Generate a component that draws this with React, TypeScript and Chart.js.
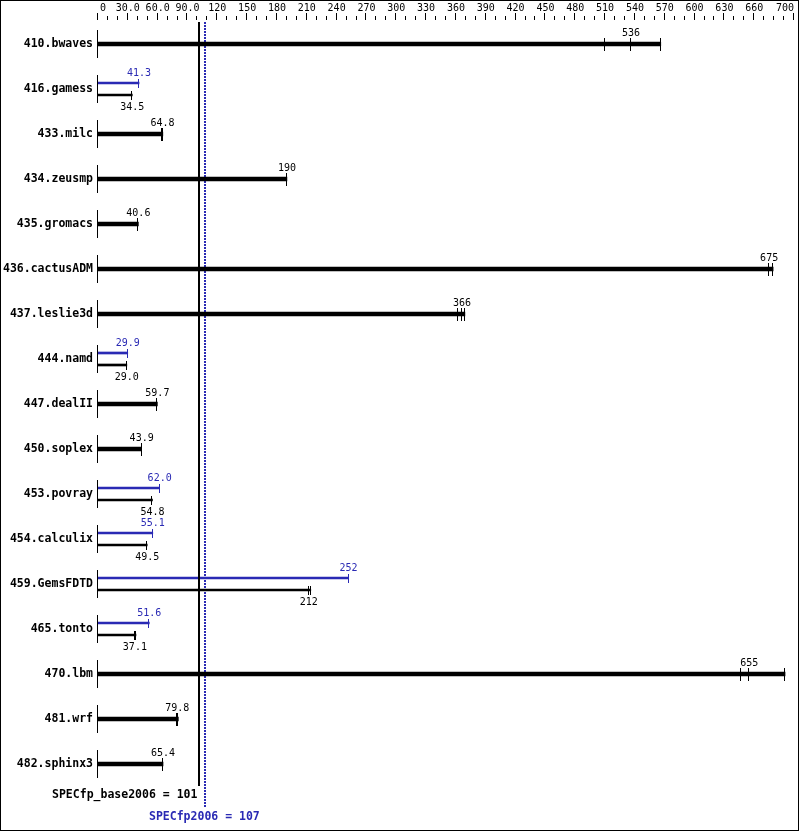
import React, { useEffect, useRef } from "react";
import { Chart, registerables } from "chart.js";

Chart.register(...registerables);

const benchmarks = [
  "410.bwaves", "416.gamess", "433.milc", "434.zeusmp", "435.gromacs", "436.cactusADM",
  "437.leslie3d", "444.namd", "447.dealII", "450.soplex", "453.povray", "454.calculix",
  "459.GemsFDTD", "465.tonto", "470.lbm", "481.wrf", "482.sphinx3",
];
const baseRatio = [536, 34.5, 64.8, 190, 40.6, 675, 366, 29.0, 59.7, 43.9, 54.8, 49.5, 212, 37.1, 655, 79.8, 65.4];
const peakRatio: (number | null)[] = [null, 41.3, null, null, null, null, null, 29.9, null, null, 62.0, 55.1, 252, 51.6, null, null, null];
const baseRuns: number[][] = [
  [510, 536, 566],
  [34.5],
  [64.8, 65.2],
  [190],
  [40.6],
  [675, 679],
  [362, 366, 369],
  [29.0],
  [59.7],
  [43.9],
  [54.8],
  [49.5],
  [212, 214],
  [37.1, 38.2],
  [647, 655, 691],
  [79.8, 80.8],
  [65.4],
];
const peakRuns: (number[] | null)[] = [null, [41.3], null, null, null, null, null, [29.9], null, null, [62.0], [55.1], [252], [51.6], null, null, null];

const baseScore = 101;
const peakScore = 107;
const baseScoreLabel = "SPECfp_base2006 = 101";
const peakScoreLabel = "SPECfp2006 = 107";

const axisMax = 700;
const axisMinorStep = 10;
const axisTickValues = [0, 30, 60, 90, 120, 150, 180, 210, 240, 270, 300, 330, 360, 390, 420, 450, 480, 510, 540, 570, 600, 630, 660, 700];
const axisTickLabels = ["0", "30.0", "60.0", "90.0", "120", "150", "180", "210", "240", "270", "300", "330", "360", "390", "420", "450", "480", "510", "540", "570", "600", "630", "660", "700"];

const BLUE = "#2a2ab4";
const BLACK = "#000000";
const ROW_OFF = 6 / 45;
const NAME_FONT = "bold 11.5px 'DejaVu Sans Mono'";
const NUM_FONT = "10px 'DejaVu Sans Mono'";

const fmt = (v: number) => (v >= 100 ? v.toFixed(0) : v.toFixed(1));
const maxOf = (a: number[]) => Math.max(...a);

export default function App() {
  const ref = useRef<HTMLCanvasElement | null>(null);

  useEffect(() => {
    if (!ref.current) return;

    const singleData: { x: number; y: number }[] = [];
    const peakData: { x: number; y: number }[] = [];
    const baseDualData: { x: number; y: number }[] = [];
    benchmarks.forEach((_, i) => {
      if (peakRatio[i] == null) {
        singleData.push({ x: maxOf(baseRuns[i]), y: i });
      } else {
        peakData.push({ x: maxOf(peakRuns[i] as number[]), y: i - ROW_OFF });
        baseDualData.push({ x: maxOf(baseRuns[i]), y: i + ROW_OFF });
      }
    });

    const overlay = {
      id: "overlay",
      beforeDraw(chart: any) {
        const { ctx } = chart;
        ctx.save();
        ctx.fillStyle = "#ffffff";
        ctx.fillRect(0, 0, chart.width, chart.height);
        ctx.restore();
      },
      beforeDatasetsDraw(chart: any) {
        const { ctx } = chart;
        const x = chart.scales.x;
        const y = chart.scales.y;
        ctx.save();
        const px = Math.round(x.getPixelForValue(peakScore)) + 1;
        ctx.strokeStyle = BLUE;
        ctx.lineWidth = 2;
        ctx.setLineDash([2, 1]);
        ctx.beginPath();
        ctx.moveTo(px, 22);
        ctx.lineTo(px, Math.round(y.getPixelForValue(16.96)));
        ctx.stroke();
        ctx.restore();
      },
      afterDatasetsDraw(chart: any) {
        const { ctx } = chart;
        const x = chart.scales.x;
        const y = chart.scales.y;
        ctx.save();

        // base score line
        const bx = Math.round(x.getPixelForValue(baseScore)) + 1;
        ctx.strokeStyle = BLACK;
        ctx.lineWidth = 2;
        ctx.beginPath();
        ctx.moveTo(bx, 22);
        ctx.lineTo(bx, Math.round(y.getPixelForValue(16.49)));
        ctx.stroke();

        const x0 = Math.round(x.getPixelForValue(0));
        const tick = (v: number, cy: number, half: number, color: string) => {
          ctx.fillStyle = color;
          ctx.fillRect(Math.round(x.getPixelForValue(v)) - 1, Math.round(cy) - half, 1, half * 2 + 1);
        };

        benchmarks.forEach((name, i) => {
          const cy = Math.round(y.getPixelForValue(i));
          ctx.fillStyle = BLACK;
          ctx.fillRect(x0 - 1, cy - 14, 1, 28);
          ctx.font = NAME_FONT;
          ctx.textAlign = "right";
          ctx.textBaseline = "middle";
          ctx.fillText(name, 93, cy);

          ctx.font = NUM_FONT;
          ctx.textAlign = "center";
          ctx.textBaseline = "alphabetic";
          if (peakRatio[i] == null) {
            baseRuns[i].forEach((v) => tick(v, cy, 6, BLACK));
            ctx.fillStyle = BLACK;
            ctx.fillText(fmt(baseRatio[i]), x.getPixelForValue(baseRatio[i]), cy - 8);
          } else {
            const py = Math.round(y.getPixelForValue(i - ROW_OFF));
            const by = Math.round(y.getPixelForValue(i + ROW_OFF));
            (peakRuns[i] as number[]).forEach((v) => tick(v, py, 4, BLUE));
            baseRuns[i].forEach((v) => tick(v, by, 4, BLACK));
            ctx.fillStyle = BLUE;
            ctx.fillText(fmt(peakRatio[i] as number), x.getPixelForValue(peakRatio[i] as number), cy - 13);
            ctx.fillStyle = BLACK;
            ctx.fillText(fmt(baseRatio[i]), x.getPixelForValue(baseRatio[i]), cy + 21);
          }
        });

        // top axis
        ctx.fillStyle = BLACK;
        for (let v = 0; v <= axisMax; v += axisMinorStep) {
          const major = axisTickValues.includes(v);
          const tx = Math.round(x.getPixelForValue(v)) - 1;
          if (major) ctx.fillRect(tx, 13, 1, 7);
          else ctx.fillRect(tx, 16, 1, 4);
        }
        ctx.font = NUM_FONT;
        ctx.textBaseline = "alphabetic";
        axisTickValues.forEach((v, k) => {
          const tx = x.getPixelForValue(v);
          if (k === 0) {
            ctx.textAlign = "left";
            ctx.fillText(axisTickLabels[k], tx + 2, 11);
          } else if (k === axisTickValues.length - 1) {
            ctx.textAlign = "right";
            ctx.fillText(axisTickLabels[k], tx, 11);
          } else {
            ctx.textAlign = "center";
            ctx.fillText(axisTickLabels[k], tx, 11);
          }
        });

        // footer scores
        ctx.font = NAME_FONT;
        ctx.textBaseline = "middle";
        ctx.textAlign = "right";
        ctx.fillStyle = BLACK;
        ctx.fillText(baseScoreLabel, x.getPixelForValue(baseScore) - 1, y.getPixelForValue(16.69));
        ctx.textAlign = "center";
        ctx.fillStyle = BLUE;
        ctx.fillText(peakScoreLabel, x.getPixelForValue(peakScore), y.getPixelForValue(17.18));

        // frame
        ctx.strokeStyle = BLACK;
        ctx.lineWidth = 1;
        ctx.strokeRect(0.5, 0.5, chart.width - 1, chart.height - 1);
        ctx.restore();
      },
    };

    const chart = new Chart(ref.current, {
      type: "bar",
      data: {
        datasets: [
          { label: "base", data: singleData, backgroundColor: BLACK, barThickness: 4, grouped: false } as any,
          { label: "peak", data: peakData, backgroundColor: BLUE, barThickness: 2, grouped: false } as any,
          { label: "base2", data: baseDualData, backgroundColor: BLACK, barThickness: 2, grouped: false } as any,
        ],
      },
      options: {
        animation: false,
        responsive: false,
        indexAxis: "y",
        layout: { padding: { left: 98, right: 5, top: 17, bottom: 22 } },
        plugins: { legend: { display: false }, tooltip: { enabled: false } },
        scales: {
          x: { type: "linear", min: 0, max: axisMax, display: false, offset: false },
          y: { type: "linear", min: -0.6, max: 17, reverse: true, display: false, offset: false },
        },
      },
      plugins: [overlay],
    });
    return () => chart.destroy();
  }, []);

  return (
    <div style={{ position: "absolute", left: 0, top: 0, width: 799, height: 831 }}>
      <canvas ref={ref} width={799} height={831} />
    </div>
  );
}
